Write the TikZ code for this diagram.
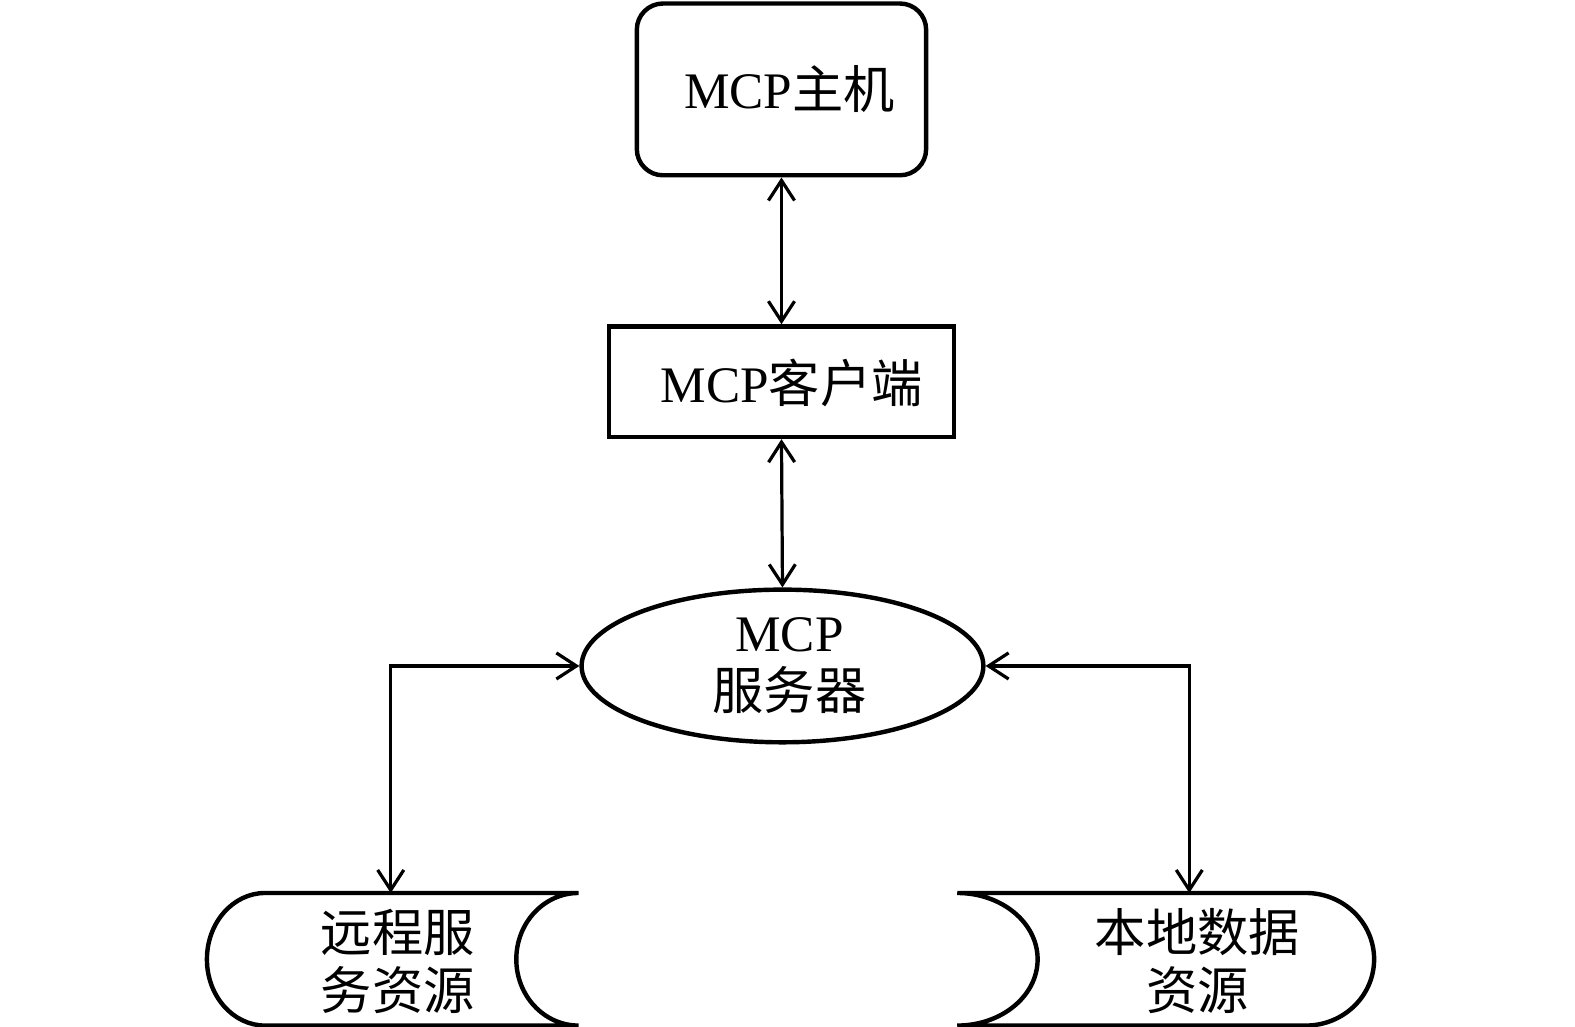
\documentclass[tikz,border=0pt]{standalone}
\usepackage{fontspec}
\setmainfont{Liberation Serif}
\newfontfamily\cjk{Noto Sans CJK SC}
\usetikzlibrary{arrows.meta,shapes.geometric}
\begin{document}
\begin{tikzpicture}[x=0.5pt,y=-0.5pt,
  shapeline/.style={draw=black,line width=2.2pt,fill=white},
  conn/.style={line width=1.6pt,{Straight Barb[length=10pt,width=13pt,line width=1.6pt]}-{Straight Barb[length=10pt,width=13pt,line width=1.6pt]}},
  lbl/.style={font=\fontsize{25.5}{29}\selectfont,align=center,inner sep=0pt}]
\useasboundingbox[fill=white] (0,0) rectangle (1568,1022);
% nodes
\node[shapeline,rounded corners=13pt,minimum width=144pt,minimum height=85.5pt] (host) at (778,89) {};
\node[shapeline,minimum width=172pt,minimum height=55pt] (client) at (778,380) {};
\node[shapeline,ellipse,minimum width=200pt,minimum height=76pt,inner sep=0pt] (server) at (779,663) {};
% stored data shapes
\draw[shapeline] (576,889) -- (264,889) arc[start angle=90,end angle=270,x radius=29pt,y radius=33pt] -- (576,1021)
  arc[start angle=270,end angle=90,x radius=31pt,y radius=33pt] -- cycle;
\draw[shapeline] (953,889) -- (1300,889) arc[start angle=90,end angle=-90,x radius=34pt,y radius=33pt] -- (953,1021)
  arc[start angle=-90,end angle=90,x radius=40pt,y radius=33pt] -- cycle;
\coordinate (rs) at (389,889);
\coordinate (ld) at (1184,889);
% labels
\node[lbl] (hostt) at (786,89) {MCP{\cjk 主机}};
\node[lbl] (clientt) at (788,381) {MCP{\cjk 客户端}};
\node[lbl] (servert) at (786,663) {MCP\\{\cjk 服务器}};
\node[lbl] (rst) at (396,957) {{\cjk 远程服}\\{\cjk 务资源}};
\node[lbl] (ldt) at (1192,957) {{\cjk 本地数据}\\{\cjk 资源}};
% connectors
\draw[conn] (host.south) -- (client.north);
\draw[conn] (client.south) -- (server.north);
\draw[conn] (server.west) -| (rs);
\draw[conn] (server.east) -| (ld);
\end{tikzpicture}
\end{document}
